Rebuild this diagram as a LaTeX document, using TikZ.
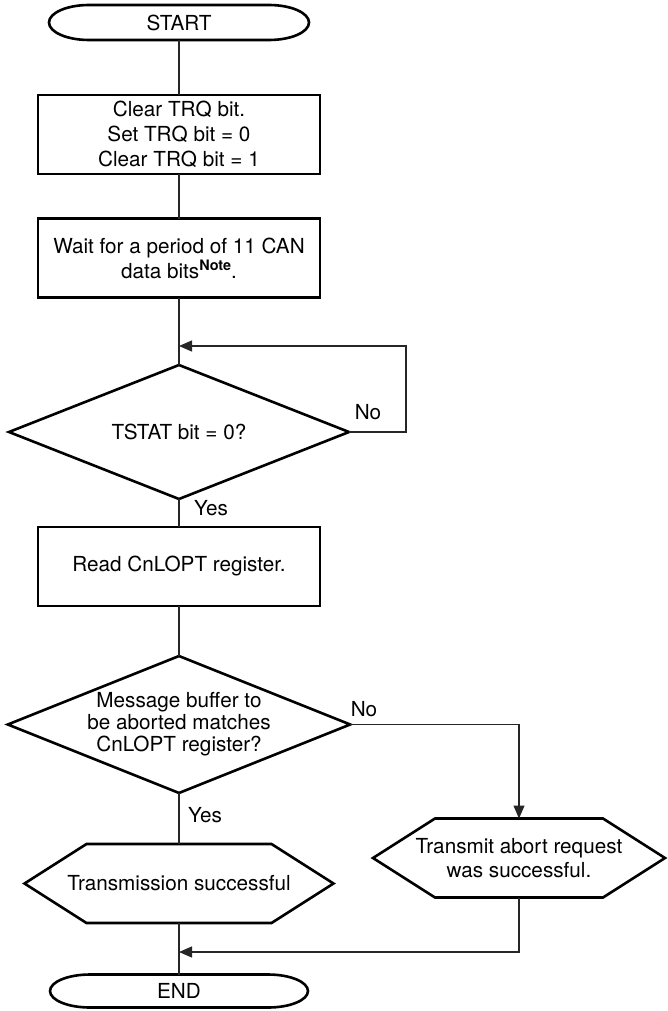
\documentclass[tikz,border=0pt]{standalone}
\usepackage{fontspec}
\setmainfont{TeX Gyre Heros}
\usetikzlibrary{shapes.geometric,arrows.meta}
\newcommand\drawterm[2]{\draw[line width=2.6pt] ([xshift=40pt]#1.north west) -- ([xshift=-40pt]#1.north east) arc[start angle=90,end angle=-90,x radius=40pt,y radius=#2pt] -- ([xshift=40pt]#1.south west) arc[start angle=270,end angle=90,x radius=40pt,y radius=#2pt] -- cycle;}
\newcommand\drawhexa[2]{\draw[line width=2.6pt] (#1.west) -- ([xshift=#2pt]#1.north west) -- ([xshift=-#2pt]#1.north east) -- (#1.east) -- ([xshift=-#2pt]#1.south east) -- ([xshift=#2pt]#1.south west) -- cycle;}
\begin{document}
\begin{tikzpicture}[x=1pt,y=-1pt,
  txt/.style={font=\fontsize{20.7}{25}\selectfont, align=center, inner sep=0pt, outer sep=0pt},
  proc/.style={txt, draw, line width=2.6pt, minimum width=282pt, minimum height=79pt},
  dec/.style={txt, diamond, draw, line width=2.6pt, minimum width=340pt, minimum height=134pt, aspect=2.5},
  termbox/.style={txt, minimum width=260pt, minimum height=35pt},
  hexbox/.style={txt, minimum height=79pt},
  conn/.style={line width=1.3pt, draw=black!85},
  arr/.style={conn, -{Triangle[length=13pt,width=11pt]}},
  lbl/.style={txt}
]
\useasboundingbox (0,0) rectangle (667,1011);
% nodes
\node[termbox] (start) at (179,22.5) {START};
\node[proc] (b1) at (179,134.5) {Clear TRQ bit.\\Set TRQ bit = 0\\Clear TRQ bit = 1};
\node[proc] (b2) at (179,258) {Wait for a period of 11 CAN\\data bits\raisebox{7.5pt}{\fontsize{14.4}{14}\selectfont\bfseries Note}.};
\node[dec] (d1) at (179,432) {TSTAT bit = 0?};
\node[proc] (b3) at (179,566.5) {Read CnLOPT register.};
\node[dec, font=\fontsize{20.7}{22}\selectfont] (d2) at (179,724.5) {Message buffer to\\be aborted matches\\CnLOPT register?};
\node[hexbox, minimum width=309pt] (h1) at (179,883.5) {Transmission successful};
\node[hexbox, minimum width=292pt, font=\fontsize{20.7}{24}\selectfont] (h2) at (519,858) {Transmit abort request\\was successful.};
\node[termbox, minimum width=258pt, minimum height=33pt] (end) at (179,991) {END};
% shapes drawn around plain nodes
\drawterm{start}{17.5}
\drawterm{end}{16.5}
\drawhexa{h1}{62}
\drawhexa{h2}{62}
% labels
\node[lbl] (no1) at (368,412) {No};
\node[lbl] (yes1) at (211,508) {Yes};
\node[lbl] (no2) at (364,709) {No};
\node[lbl] (yes2) at (205,815) {Yes};
% junctions
\coordinate (j1) at (179,346);
\coordinate (j2) at (179,952);
% connectors
\draw[conn] (start) -- (b1);
\draw[conn] (b1) -- (b2);
\draw[conn] (b2) -- (d1);
\draw[conn] (d1) -- (b3);
\draw[conn] (b3) -- (d2);
\draw[conn] (d2) -- (h1);
\draw[conn] (h1) -- (end);
\draw[arr] (d1.east) -- ++(57,0) |- (j1);
\draw[arr] (d2.east) -| (h2.north);
\draw[arr] (h2.south) |- (j2);
\end{tikzpicture}
\end{document}
